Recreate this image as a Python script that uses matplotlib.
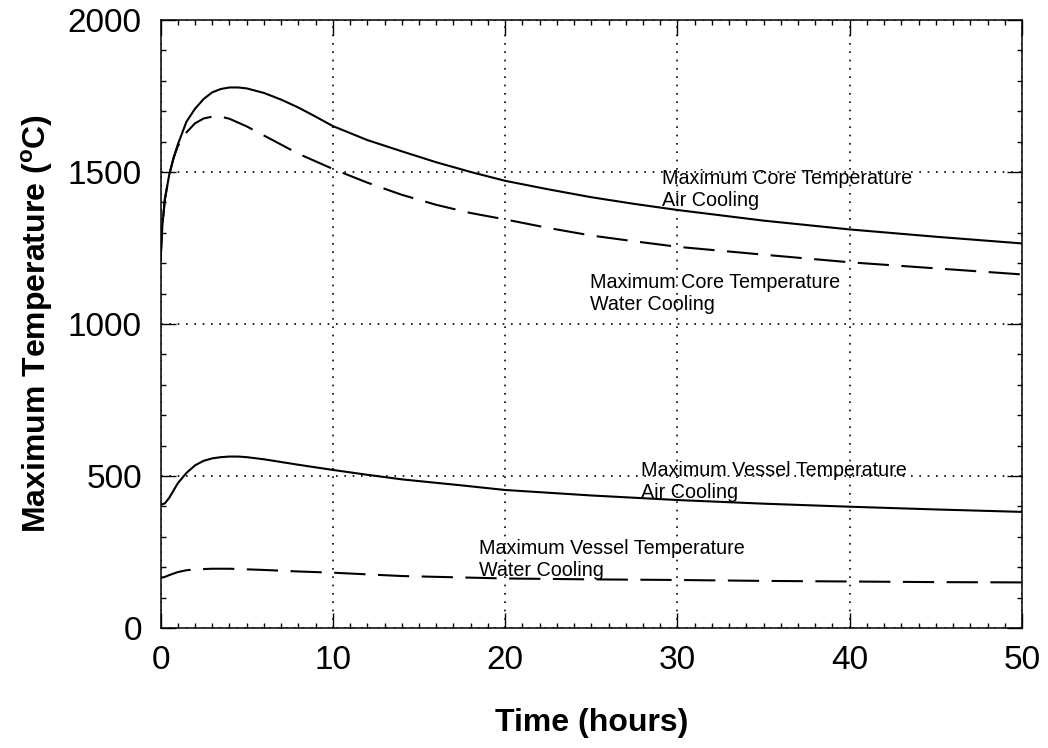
import matplotlib
matplotlib.use("Agg")
import matplotlib.pyplot as plt
from matplotlib.ticker import MultipleLocator

# ---- data ----
t_core_air = [0, 0.1, 0.25, 0.5, 0.75, 1.0, 1.5, 2.0, 2.5, 3.0, 3.5, 4.0, 4.5, 5, 6, 7, 8, 9, 10,
              12, 14, 16, 18, 20, 22.5, 25, 27.5, 30, 35, 40, 45, 50]
core_air = [1210, 1320, 1410, 1490, 1545, 1590, 1665, 1708, 1740, 1762, 1773, 1778, 1778, 1775,
            1760, 1738, 1712, 1682, 1651, 1605, 1568, 1532, 1500, 1471, 1443, 1417, 1395, 1375,
            1340, 1311, 1287, 1265]

t_core_water = [0, 0.1, 0.25, 0.5, 0.75, 1.0, 1.5, 2.0, 2.5, 3.0, 3.5, 4.0, 5, 6, 7, 8, 9, 10,
                12, 14, 16, 18, 20, 22.5, 25, 27.5, 30, 35, 40, 45, 50]
core_water = [1210, 1320, 1410, 1490, 1545, 1585, 1630, 1660, 1676, 1682, 1682, 1675, 1650, 1620,
              1590, 1560, 1535, 1510, 1465, 1425, 1392, 1365, 1344, 1316, 1291, 1272, 1254, 1228,
              1203, 1183, 1163]

t_vessel_air = [0, 0.25, 0.5, 0.75, 1.0, 1.5, 2.0, 2.5, 3.0, 3.5, 4.0, 4.5, 5, 6, 7, 8, 10, 12,
                14, 17.5, 20, 25, 30, 35, 40, 45, 50]
vessel_air = [405, 410, 428, 452, 476, 510, 535, 550, 558, 562, 564, 564, 562, 555, 546, 537, 520,
              504, 489, 469, 454, 436, 421, 409, 399, 390, 382]

t_vessel_water = [0, 0.25, 0.5, 1.0, 1.5, 2.0, 3.0, 4.0, 5, 6, 8, 10, 14, 20, 25, 30, 35, 40, 45, 50]
vessel_water = [165, 168, 174, 184, 190, 193, 195, 195, 193, 191, 186, 182, 171, 163, 160, 158,
                155, 153, 151, 150]

x_ticks = [0, 10, 20, 30, 40, 50]
y_ticks = [0, 500, 1000, 1500, 2000]

labels = [
    ("Maximum Core Temperature\nAir Cooling", 29.1, 1510),
    ("Maximum Core Temperature\nWater Cooling", 24.9, 1169),
    ("Maximum Vessel Temperature\nAir Cooling", 27.9, 549),
    ("Maximum Vessel Temperature\nWater Cooling", 18.5, 292),
]

# ---- style ----
plt.rcParams['font.family'] = ['Liberation Sans', 'DejaVu Sans']
plt.rcParams['mathtext.fontset'] = 'custom'
plt.rcParams['mathtext.rm'] = 'Liberation Sans:bold'
plt.rcParams['mathtext.bf'] = 'Liberation Sans:bold'

fig = plt.figure(figsize=(10.48, 7.48), dpi=100)
ax = fig.add_axes([0.1532, 0.1604, 0.8220, 0.8129])

dash = (15, 6)
ax.plot(t_core_air, core_air, color='black', lw=1.5)
ax.plot(t_core_water, core_water, color='black', lw=1.5, dashes=dash)
ax.plot(t_vessel_air, vessel_air, color='black', lw=1.5)
ax.plot(t_vessel_water, vessel_water, color='black', lw=1.5, dashes=dash)

for s, x, y in labels:
    ax.text(x, y, s, fontsize=14.2, va='top', ha='left', linespacing=1.2)

ax.set_xlim(0, 50)
ax.set_ylim(0, 2000)
ax.set_xticks(x_ticks)
ax.set_yticks(y_ticks)
ax.xaxis.set_minor_locator(MultipleLocator(1))
ax.yaxis.set_minor_locator(MultipleLocator(100))
ax.tick_params(which='both', direction='in', top=True, right=True, width=1)
ax.tick_params(which='major', length=11, labelsize=24)
ax.tick_params(axis='x', which='major', pad=12)
ax.tick_params(axis='y', which='major', pad=13.5)
ax.tick_params(which='minor', length=3.5)
ax.grid(True, which='major', color='black', linestyle=(0, (1, 4)), linewidth=1.2)
for sp in ax.spines.values():
    sp.set_linewidth(1.1)

ax.set_xlabel("Time (hours)", fontsize=23, fontweight='bold')
ax.set_ylabel(r"Maximum Temperature ($^{\mathrm{o}}$C)", fontsize=23, fontweight='bold')
ax.xaxis.set_label_coords(0.5, -0.132)
ax.yaxis.set_label_coords(-0.122, 0.5)

fig.savefig("out.png", dpi=100)
